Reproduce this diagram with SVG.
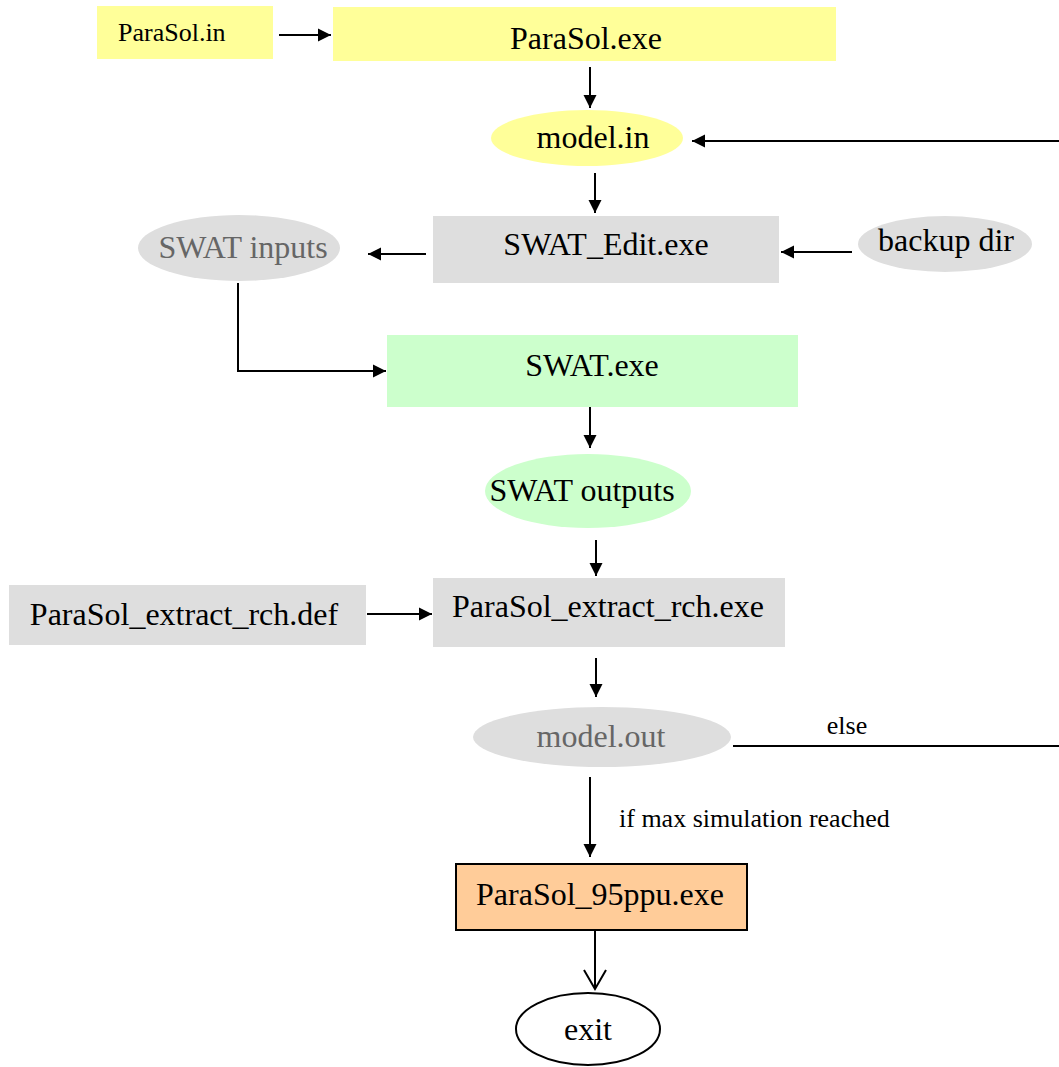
<svg xmlns="http://www.w3.org/2000/svg" width="1059" height="1067" viewBox="0 0 1059 1067">
  <style>
    .lbl { font-family: "Liberation Serif", "Times New Roman", serif; font-size: 32px; fill: #000; text-anchor: middle; }
    .small { font-size: 26px; }
    .dim { fill: #666666; }
    .yellow { fill: #ffff99; }
    .grey { fill: #dedede; }
    .green { fill: #ccffcc; }
    .orange { fill: #ffcc99; stroke: #000; stroke-width: 2; }
    .edge { fill: none; stroke: #000; stroke-width: 2; }
    .tip { marker-end: url(#arrow); }
  </style>
  <defs>
    <marker id="arrow" markerUnits="userSpaceOnUse" markerWidth="14" markerHeight="14" refX="13" refY="7" orient="auto">
      <path d="M0,0.5 L13,7 L0,13.5 z" fill="#000"/>
    </marker>
  </defs>
  <rect width="1059" height="1067" fill="#ffffff"/>

  <!-- connectors -->
  <g id="connectors">
    <line class="edge tip" x1="279" y1="35" x2="331" y2="35"/>
    <line class="edge tip" x1="590" y1="67" x2="590" y2="108"/>
    <line class="edge tip" x1="1059" y1="141" x2="692" y2="141"/>
    <line class="edge tip" x1="595" y1="173" x2="595" y2="213"/>
    <line class="edge tip" x1="852" y1="252" x2="781" y2="252"/>
    <line class="edge tip" x1="426" y1="254" x2="368" y2="254"/>
    <polyline class="edge tip" points="238,283 238,371 386,371"/>
    <line class="edge tip" x1="590" y1="407" x2="590" y2="448"/>
    <line class="edge tip" x1="596" y1="540" x2="596" y2="576"/>
    <line class="edge tip" x1="367" y1="614" x2="432" y2="614"/>
    <line class="edge tip" x1="596" y1="658" x2="596" y2="697"/>
    <line class="edge" x1="733" y1="746" x2="1059" y2="746"/>
    <text class="lbl small" x="847" y="734">else</text>
    <line class="edge tip" x1="590" y1="777" x2="590" y2="857"/>
    <text class="lbl small" x="619" y="827" style="text-anchor:start">if max simulation reached</text>
    <line class="edge" x1="595" y1="930" x2="595" y2="989"/>
    <polyline class="edge" points="584,970 595,989 606,970"/>
  </g>

  <g id="parasol-in">
    <rect class="yellow" x="97" y="6" width="176" height="53"/>
    <text class="lbl small" x="118" y="41" style="text-anchor:start">ParaSol.in</text>
  </g>
  <g id="parasol-exe">
    <rect class="yellow" x="333" y="7" width="503" height="54"/>
    <text class="lbl" x="586" y="49">ParaSol.exe</text>
  </g>
  <g id="model-in">
    <ellipse class="yellow" cx="587" cy="138" rx="96" ry="28"/>
    <text class="lbl" x="593" y="148">model.in</text>
  </g>
  <g id="swat-edit">
    <rect class="grey" x="433" y="216" width="346" height="67"/>
    <text class="lbl" x="606" y="255">SWAT_Edit.exe</text>
  </g>
  <g id="backup-dir">
    <ellipse class="grey" cx="945" cy="244" rx="87" ry="28"/>
    <text class="lbl" x="946" y="251">backup dir</text>
  </g>
  <g id="swat-inputs">
    <ellipse class="grey" cx="239" cy="248" rx="101" ry="33"/>
    <text class="lbl dim" x="243" y="258">SWAT inputs</text>
  </g>
  <g id="swat-exe">
    <rect class="green" x="387" y="335" width="411" height="72"/>
    <text class="lbl" x="592" y="376">SWAT.exe</text>
  </g>
  <g id="swat-outputs">
    <ellipse class="green" cx="588" cy="491" rx="103" ry="37"/>
    <text class="lbl" x="582" y="501">SWAT outputs</text>
  </g>
  <g id="extract-exe">
    <rect class="grey" x="433" y="578" width="352" height="69"/>
    <text class="lbl" x="608" y="617">ParaSol_extract_rch.exe</text>
  </g>
  <g id="extract-def">
    <rect class="grey" x="9" y="585" width="357" height="60"/>
    <text class="lbl" x="184" y="625">ParaSol_extract_rch.def</text>
  </g>
  <g id="model-out">
    <ellipse class="grey" cx="602" cy="737" rx="129" ry="30"/>
    <text class="lbl dim" x="601" y="747">model.out</text>
  </g>
  <g id="ppu">
    <rect class="orange" x="456" y="864" width="291" height="66"/>
    <text class="lbl" x="600" y="905">ParaSol_95ppu.exe</text>
  </g>
  <g id="exit">
    <ellipse cx="588" cy="1029" rx="72" ry="36" fill="#ffffff" stroke="#000" stroke-width="2"/>
    <text class="lbl" x="588" y="1040">exit</text>
  </g>
</svg>
